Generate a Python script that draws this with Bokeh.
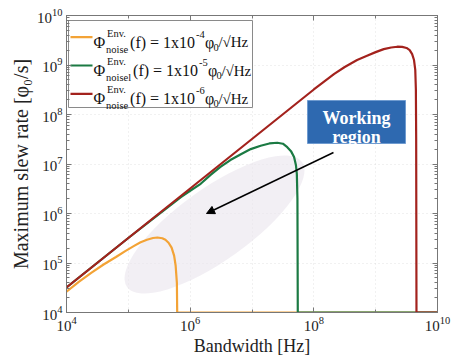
from bokeh.plotting import figure
from bokeh.models import (Range1d, LogAxis, FixedTicker, Label, Arrow, NormalHead,
                          CustomJSTickFormatter)
from bokeh.embed import file_html
from bokeh.resources import INLINE

# ---------------- data ----------------
# noise 1e-4 phi0/sqrt(Hz)
orange_f = [1e4, 1.58e4, 2.51e4, 3.98e4, 6.31e4, 8.91e4, 1.26e5, 1.58e5, 2.0e5, 2.51e5,
            2.95e5, 3.55e5, 3.98e5, 4.47e5, 5.01e5, 5.5e5, 5.82e5, 6.1e5, 6.17e5, 1e10]
orange_s = [2.63e4, 4.17e4, 6.31e4, 9.33e4, 1.32e5, 1.74e5, 2.24e5, 2.63e5, 2.95e5, 3.2e5,
            3.27e5, 3.16e5, 2.95e5, 2.57e5, 2.04e5, 1.41e5, 8.91e4, 3.98e4, 1e4, 1e4]
# noise 1e-5 phi0/sqrt(Hz)
green_f = [1e4, 1e5, 7.08e5, 1e6, 1.48e6, 2.14e6, 3.09e6, 4.47e6, 6.61e6, 9.55e6, 1.38e7,
           1.91e7, 2.57e7, 3.16e7, 3.72e7, 4.27e7, 4.79e7, 5.13e7, 5.31e7, 5.43e7, 5.5e7, 1e10]
green_s = [3.2e4, 3.2e5, 2.14e6, 2.88e6, 3.98e6, 6.03e6, 8.71e6, 1.2e7, 1.58e7, 2.0e7, 2.34e7,
           2.6e7, 2.69e7, 2.57e7, 2.19e7, 1.82e7, 1.38e7, 9.55e6, 6.31e6, 2.0e6, 1e4, 1e4]
# noise 1e-6 phi0/sqrt(Hz)
red_f = [1e4, 1e6, 1e7, 1e8, 2.14e8, 3.16e8, 5.01e8, 7.41e8, 1e9, 1.35e9, 1.78e9, 2.24e9,
         2.69e9, 3.16e9, 3.55e9, 3.89e9, 4.17e9, 4.37e9, 4.47e9, 4.52e9, 4.57e9, 1e10]
red_s = [3.2e4, 3.2e6, 3.2e7, 3.2e8, 6.6e8, 9.12e8, 1.26e9, 1.55e9, 1.82e9, 2.09e9, 2.26e9,
         2.34e9, 2.32e9, 2.21e9, 2.0e9, 1.66e9, 1.26e9, 7.94e8, 3.16e8, 3.16e7, 1e4, 1e4]

series_colors = ["#F3A336", "#1B7A43", "#A3221D"]
legend_exps = ["-4", "-5", "-6"]
legend_subs = ["noise", "noisel", "noise"]

x_major = [1e4, 1e6, 1e8, 1e10]
x_minor = [1e5, 1e7, 1e9]
y_major = [1e4, 1e5, 1e6, 1e7, 1e8, 1e9, 1e10]
y_minor = [m * d for d in [1e4, 1e5, 1e6, 1e7, 1e8, 1e9] for m in range(2, 10)]

# ---------------- layout helpers (frame in pixels) ----------------
L, R, T, B = 66, 437, 15, 312


def fx(px):
    return 10 ** (4 + 6 * (px - L) / (R - L))


def fy(py):
    return 10 ** (4 + 6 * (B - py) / (B - T))


SERIF = "Liberation Serif"

p = figure(width=451, height=358, x_axis_type="log", y_axis_type="log",
           x_range=Range1d(1e4, 1e10), y_range=Range1d(1e4, 1e10),
           output_backend="svg", toolbar_location=None,
           min_border_left=L, min_border_right=451 - R,
           min_border_top=T, min_border_bottom=358 - B,
           background_fill_color="white", border_fill_color="white")
p.outline_line_color = "#777777"

for ax in (p.xaxis[0], p.yaxis[0]):
    ax.major_tick_in = 5
    ax.major_tick_out = 0
    ax.minor_tick_in = 3
    ax.minor_tick_out = 0
    ax.axis_line_color = "#777777"
    ax.major_tick_line_color = "#777777"
    ax.minor_tick_line_color = "#777777"
    ax.major_label_text_font = SERIF
    ax.major_label_text_font_size = "15px"
    ax.major_label_text_color = "#222222"
    ax.axis_label_text_font = SERIF
    ax.axis_label_text_font_style = "normal"
    ax.axis_label_text_color = "#222222"
    ax.major_label_standoff = 4
    ax.axis_label_standoff = 2

p.xaxis.axis_label_text_font_size = "18px"
p.yaxis.axis_label_text_font_size = "20px"
p.xaxis.ticker = FixedTicker(ticks=x_major, minor_ticks=x_minor)
p.yaxis.ticker = FixedTicker(ticks=y_major, minor_ticks=y_minor)
p.xaxis.axis_label = "Bandwidth [Hz]"
p.yaxis.axis_label = "Maximum slew rate [\u03c6\u2080/s]"

for loc, tk in (("right", FixedTicker(ticks=y_major, minor_ticks=y_minor)),
                ("above", FixedTicker(ticks=x_major, minor_ticks=x_minor))):
    ax = LogAxis(ticker=tk, formatter=CustomJSTickFormatter(code="return ' '"),
                 major_label_text_font_size="6px",
                 major_tick_in=5, major_tick_out=0, minor_tick_in=3, minor_tick_out=0,
                 axis_line_color="#777777", major_tick_line_color="#777777",
                 minor_tick_line_color="#777777", major_label_standoff=0)
    p.add_layout(ax, loc)

p.xgrid.ticker = FixedTicker(ticks=x_major + x_minor)
p.ygrid.ticker = FixedTicker(ticks=y_major)
for g in (p.xgrid[0], p.ygrid[0]):
    g.grid_line_color = "#cfcfcf"
    g.grid_line_dash = "1 3"
    g.grid_line_alpha = 0.6

# faint "working region" blob
p.ellipse(x=[fx(214)], y=[fy(224)], width=[215], height=[72],
          width_units="screen", height_units="screen", angle=0.62,
          fill_color="#ebe7ee", fill_alpha=0.65, line_color=None)

# curves
for f, s, c in ((orange_f, orange_s, series_colors[0]),
                (green_f, green_s, series_colors[1]),
                (red_f, red_s, series_colors[2])):
    p.line(f, s, line_color=c, line_width=2.2, line_join="round")

# arrow
p.add_layout(Arrow(x_start=fx(333), y_start=fy(152), x_end=fx(206), y_end=fy(213),
                   line_color="black", line_width=1.5,
                   end=NormalHead(size=8, fill_color="black", line_color="black")))

# "Working region" box
p.quad(left=[fx(307)], right=[fx(405)], top=[fy(100)], bottom=[fy(143)],
       fill_color="#2E69B0", line_color="#6f9bd0", line_width=1)
p.add_layout(Label(x=fx(356), y=fy(117), text="Working", text_align="center",
                   text_baseline="alphabetic", text_font=SERIF, text_font_size="18px",
                   text_font_style="bold", text_color="white"))
p.add_layout(Label(x=fx(356), y=fy(136), text="region", text_align="center",
                   text_baseline="alphabetic", text_font=SERIF, text_font_size="18px",
                   text_font_style="bold", text_color="white"))

# legend box
p.quad(left=[fx(68)], right=[fx(252)], top=[fy(20)], bottom=[fy(107)],
       fill_color="white", line_color="#8a8a8a", line_width=1)

S, SS = 16, 10.5
W = {"Phi": 0.722, "main": 4.063, "phi": 0.52}


def lab(px, py, text, size, color="#111111"):
    p.add_layout(Label(x=fx(px), y=fy(py), text=text, text_align="left",
                       text_baseline="alphabetic", text_font=SERIF,
                       text_font_size=f"{size}px", text_color=color))


for i, (c, e, sub) in enumerate(zip(series_colors, legend_exps, legend_subs)):
    yc = 36.7 + 28.3 * i
    base = yc + 5
    p.line([fx(70), fx(92)], [fy(yc), fy(yc)], line_color=c, line_width=2.2)
    x0 = 93
    lab(x0, base, "\u03a6", S)
    x1 = x0 + W["Phi"] * S + 1
    lab(x1 + 1, base - 9, "Env.", SS)
    lab(x1, base + 7, sub, SS)
    x2 = x1 + (23 if sub == "noise" else 26) + 1
    lab(x2, base, "(f) = 1x10", S)
    x3 = x2 + W["main"] * S + 1
    lab(x3, base - 8, e, SS)
    x4 = x3 + 9
    lab(x4, base, "\u03c6", S)
    x5 = x4 + W["phi"] * S
    lab(x5, base + 5, "0", SS)
    x6 = x5 + 5
    lab(x6, base, "/\u221aHz", 15)

open("out.html", "w").write(file_html(p, INLINE))
